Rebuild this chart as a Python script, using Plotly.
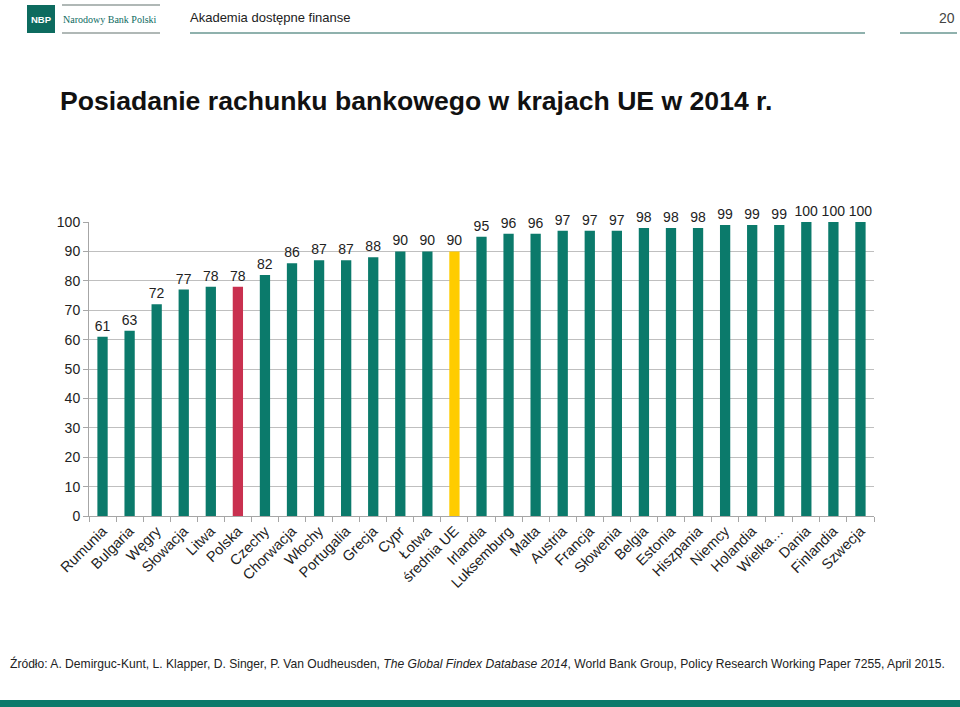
import plotly.graph_objects as go

# Data: share of adults with a bank account, EU 2014
kraje = ["Rumunia", "Bulgaria", "Węgry", "Słowacja", "Litwa", "Polska", "Czechy",
         "Chorwacja", "Włochy", "Portugalia", "Grecja", "Cypr", "Łotwa", "średnia UE",
         "Irlandia", "Luksemburg", "Malta", "Austria", "Francja", "Słowenia", "Belgia",
         "Estonia", "Hiszpania", "Niemcy", "Holandia", "Wielka…", "Dania", "Finlandia",
         "Szwecja"]
wartosci = [61, 63, 72, 77, 78, 78, 82, 86, 87, 87, 88, 90, 90, 90, 95, 96, 96, 97, 97,
            97, 98, 98, 98, 99, 99, 99, 100, 100, 100]
y_ticks = [0, 10, 20, 30, 40, 50, 60, 70, 80, 90, 100]

TEAL = "#0b7a6b"
kolory = []
for k in kraje:
    if k == "Polska":
        kolory.append("#c9304f")
    elif k == "średnia UE":
        kolory.append("#ffcc00")
    else:
        kolory.append(TEAL)

FONT = "Liberation Sans, Arial, sans-serif"

# plot area in pixels
L, R, T, B = 89, 874, 222, 516

fig = go.Figure(go.Bar(
    x=kraje, y=wartosci, marker_color=kolory, marker_line_width=0,
    text=wartosci, textposition="outside", cliponaxis=False,
    textfont=dict(size=14, color="#222222", family=FONT),
))

fig.update_layout(
    width=960, height=707,
    margin=dict(l=L, r=960 - R, t=T, b=707 - B, autoexpand=False),
    paper_bgcolor="white", plot_bgcolor="white",
    bargap=0.62, showlegend=False,
    font=dict(family=FONT, color="#222222"),
    uniformtext=dict(minsize=14, mode="show"),
)
fig.update_xaxes(
    tickangle=-45, tickfont=dict(size=14.5, color="#222222"), automargin=False,
    showline=True, linecolor="#a6a6a6", linewidth=1,
    ticks="outside", tickson="boundaries", ticklen=5, tickcolor="#a6a6a6",
    showgrid=False,
)
fig.update_yaxes(
    range=[0, 100], tickvals=y_ticks, tickfont=dict(size=14, color="#222222"),
    automargin=False,
    showline=True, linecolor="#a6a6a6", linewidth=1,
    ticks="outside", ticklen=5, tickcolor="#a6a6a6",
    showgrid=True, gridcolor="#bfbfbf", gridwidth=1, zeroline=False,
)


def px_shape(kind, x0, y0, x1, y1, **kw):
    d = dict(type=kind, xref="paper", yref="paper",
             x0=(x0 - L) / (R - L), x1=(x1 - L) / (R - L),
             y0=(B - y0) / (B - T), y1=(B - y1) / (B - T))
    d.update(kw)
    return d


# header: logo, headline line, page number line, footer bar
fig.update_layout(shapes=[
    px_shape("rect", 27, 5, 55, 33, fillcolor="#0d6b5f", line=dict(width=0)),
    px_shape("line", 62, 5, 160, 5, line=dict(color="#b0b8b6", width=2)),
    px_shape("line", 62, 33, 160, 33, line=dict(color="#b0b8b6", width=2)),
    px_shape("line", 190, 33, 865, 33, line=dict(color="#8fb1ad", width=2)),
    px_shape("line", 900, 33, 957, 33, line=dict(color="#8fb1ad", width=2)),
    px_shape("rect", 0, 700, 960, 707, fillcolor=TEAL, line=dict(width=0)),
])


def px_text(x, y, text, size, anchor="left", family=FONT, color="#222222"):
    return dict(xref="paper", yref="paper", x=(x - L) / (R - L), y=(B - y) / (B - T),
                text=text, showarrow=False, xanchor=anchor, yanchor="middle",
                font=dict(size=size, family=family, color=color))


fig.update_layout(annotations=[
    px_text(41, 19, "<b>NBP</b>", 9.5, anchor="center", color="white"),
    px_text(61, 19, "Narodowy Bank Polski", 10, family="Liberation Serif, serif",
            color="#0d6b5f"),
    px_text(188, 18, "Akademia dostępne finanse", 13),
    px_text(957, 18, "20", 14, anchor="right", color="#444444"),
    px_text(58, 101, "<b>Posiadanie rachunku bankowego w krajach UE w 2014 r.</b>", 26.6,
            color="#111111"),
    px_text(8, 663, "Źródło: A. Demirguc-Kunt, L. Klapper, D. Singer, P. Van Oudheusden, "
            "<i>The Global Findex Database 2014</i>, World Bank Group, Policy Research "
            "Working Paper 7255, April 2015.", 12.1),
])

# page body has a default 8px margin; drop it so the figure fills the window
fig.write_html("out.html", config={"displayModeBar": False},
               post_script="document.body.style.margin='0';")
